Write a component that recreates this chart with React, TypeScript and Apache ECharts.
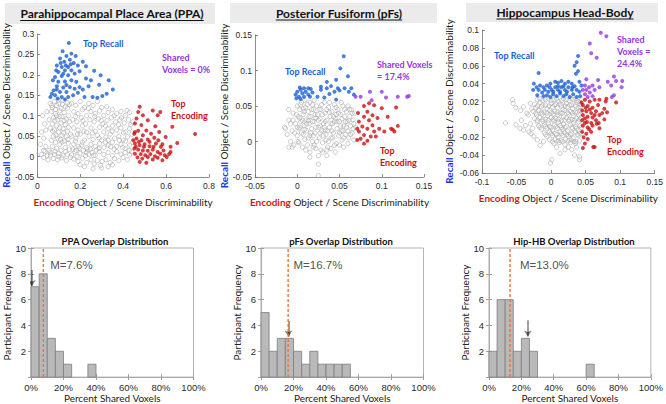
import React, { useEffect, useRef } from "react";
import * as echarts from "echarts";

// ---------- Scatter data: PPA ----------
const ppaGray: number[][] = [
  [.06,.13],[.08,.135],[.1,.13],[.12,.138],[.14,.132],[.07,.12],[.09,.125],[.11,.118],[.13,.122],[.15,.127],[.065,.11],[.085,.105],[.105,.112],[.125,.108],[.145,.1],[.075,.095],[.095,.09],[.115,.098],[.135,.092],[.055,.09],[.07,.08],[.09,.075],[.11,.082],[.13,.078],[.15,.085],[.08,.065],[.1,.06],[.12,.068],[.14,.062],[.06,.07],[.075,.05],[.095,.045],[.115,.052],[.135,.048],[.155,.055],[.065,.04],[.085,.035],[.105,.03],[.125,.038],[.145,.033],[.07,.025],[.09,.02],[.11,.015],[.13,.022],[.15,.018],[.06,.01],[.08,.005],[.1,.008],[.12,.002],[.14,.006],[.075,-.005],[.095,-.008],[.115,-.003],[.135,-.01],[.155,-.002],[.085,.115],[.125,.088],[.105,.07],[.145,.072],[.09,.1],[.115,.035],[.14,.118],
  [.02,.005],[.03,-.002],[.035,.012],[.045,.002],[.05,-.008],[.055,.015],[.16,.004],[.17,-.006],[.175,.012],[.185,.0],[.19,-.012],[.2,.008],[.21,-.004],[.215,.014],[.225,.002],[.23,-.015],[.24,.006],[.25,-.008],[.255,.01],[.265,-.018],[.27,.003],[.28,-.01],[.29,.012],[.295,-.022],[.165,.018],[.195,.02],[.235,.018],[.275,.016],
  [.16,.13],[.18,.125],[.2,.135],[.22,.12],[.24,.13],[.26,.125],[.28,.135],[.3,.12],[.17,.11],[.19,.105],[.21,.115],[.23,.1],[.25,.11],[.27,.105],[.29,.112],[.31,.1],[.33,.108],[.35,.115],[.37,.105],[.39,.11],[.41,.1],[.43,.108],[.165,.09],[.185,.085],[.205,.095],[.225,.08],[.245,.09],[.265,.085],[.285,.092],[.305,.08],[.325,.088],[.345,.095],[.365,.085],[.385,.09],[.405,.082],[.425,.09],[.445,.085],[.17,.07],[.19,.065],[.21,.075],[.23,.06],[.25,.07],[.27,.062],[.29,.072],[.31,.06],[.33,.068],[.35,.075],[.37,.065],[.39,.07],[.41,.06],[.43,.068],[.16,.05],[.18,.045],[.2,.055],[.22,.04],[.24,.05],[.26,.042],[.28,.052],[.3,.04],[.32,.048],[.34,.055],[.36,.045],[.38,.05],[.4,.04],[.42,.048],[.44,.055],[.17,.03],[.19,.025],[.21,.035],[.23,.022],[.25,.03],[.27,.025],[.29,.032],[.31,.022],[.33,.028],[.35,.035],[.37,.025],[.39,.03],[.41,.02],[.43,.028],[.445,.035],[.31,.005],[.32,-.008],[.33,.01],[.34,-.015],[.35,.002],[.36,-.005],[.37,.012],[.38,-.01],[.39,.006],[.4,-.002],[.41,.01],[.42,-.008],[.43,.004],[.44,.012],[.22,-.025],[.26,-.03],[.3,-.028],[.33,-.025],[.2,-.02],[.35,-.02],
  [.015,.03],[.02,.06],[.025,.1],[.03,.045],[.035,.08],[.04,.025],[.045,.11],[.03,.015],[.04,.065],
  [.067,.125],[.098,.137],[.117,.128],[.082,.088],[.103,.098],[.123,.058],[.088,.052],[.072,.062],[.108,.042],[.132,.012],[.098,.0],[.083,.013],[.062,.003],[.143,.042],[.178,.098],[.213,.088],[.238,.118],[.268,.098],[.298,.088],[.323,.122],[.358,.1],[.392,.095],[.418,.113],[.188,.055],[.218,.062],[.258,.058],[.288,.045],[.318,.075],[.348,.062],[.378,.078],[.402,.058],[.435,.078],[.182,.015],[.208,.028],[.248,.018],[.288,.02],[.318,.035],[.358,.018],[.398,.022],[.428,.015],[.178,.038],[.33,.04],[.228,.01],[.262,.003],[.302,-.012],[.342,.024],[.382,.04],[.412,.038]
];
const ppaRecall: number[][] = [
  [.147,.278],[.118,.258],[.159,.252],[.136,.246],[.179,.246],[.106,.24],[.152,.237],[.126,.232],[.17,.229],[.189,.223],[.091,.223],[.114,.219],[.144,.219],[.129,.211],[.159,.211],[.098,.207],[.227,.221],[.197,.209],[.083,.195],[.114,.197],[.144,.199],[.174,.203],[.073,.187],[.098,.183],[.129,.184],[.159,.187],[.182,.183],[.091,.172],[.121,.169],[.152,.17],[.076,.162],[.106,.158],[.136,.158],[.174,.166],[.083,.15],[.114,.146],[.061,.146],[.144,.146],[.167,.15],[.189,.156],[.068,.154],[.095,.142],[.129,.14],
  [.265,.21],[.25,.187],[.295,.199],[.333,.187],[.288,.176],[.352,.164],[.239,.172],[.212,.164],[.258,.146],[.303,.148],[.323,.154],[.28,.144],[.22,.146],[.197,.17],[.227,.191],[.212,.232],
  [.088,.211],[.109,.229],[.133,.223],[.156,.226],[.121,.203],[.091,.164],[.136,.175]
];
const ppaEncoding: number[][] = [
  [.477,.122],[.47,.109],[.492,.101],[.462,.093],[.515,.089],[.538,.113],[.561,.101],[.573,.109],[.55,.074],[.455,.081],[.485,.077],[.629,.073],[.508,.064],[.47,.063],[.452,.056],[.492,.052],[.53,.056],[.568,.06],[.735,.055],[.462,.044],[.485,.04],[.515,.042],[.545,.046],[.598,.048],[.652,.033],[.455,.032],[.477,.028],[.5,.03],[.523,.025],[.553,.032],[.576,.024],[.621,.024],[.452,.02],[.47,.017],[.492,.015],[.515,.014],[.538,.017],[.561,.011],[.588,.015],[.614,.006],[.455,.007],[.482,.006],[.503,.003],[.527,.006],[.548,.001],[.573,.007],[.594,.003],[.467,-.002],[.489,-.005],[.515,-.001],[.538,-.007],[.561,-.003],[.583,-.009],[.477,-.013],[.508,-.015],[.603,-.001],[.621,.011],[.459,.024],[.473,.036],[.497,.024],[.523,.036],[.542,.024],[.564,.04],[.583,.03],[.447,.04],[.455,.06]
];
const ppaShared: number[][] = [];

// ---------- Scatter data: pFs ----------
const pfsGray: number[][] = [
  [-.015,.02],[-.012,.01],[-.01,.03],[-.008,.0],[-.006,.015],[-.005,.04],[-.004,-.005],[-.002,.025],[0,.05],[0,.008],[.001,.035],[.002,.018],[.002,-.002],[.003,.045],[.004,.028],[.005,.012],[.005,.055],[.006,-.008],[.007,.038],[.008,.022],[.009,.003],[.01,.048],[.01,.03],[.011,.015],[.012,-.005],[.013,.042],[.014,.025],[.015,.008],[.015,.055],[.016,.035],[.017,.018],[.018,.0],[.019,.045],[.02,.028],[.021,.012],[.022,-.01],[.023,.05],[.024,.038],[.025,.02],[.026,.005],[.027,.032],[.028,.045],[.029,.015],[.03,-.002],[.031,.025],[.032,.055],[.033,.04],[.034,.01],[.035,.03],[.036,-.008],[.037,.048],[.038,.02],[.039,.035],[.04,.005],[.041,.042],[.042,.025],[.043,.012],[.044,.052],[.045,.032],[.046,-.003],[.047,.018],[.048,.045],[.049,.008],[.05,.028],[.051,.038],[.052,.015],[.053,.002],[.054,.05],[.055,.022],[.056,.035],[.057,.01],[.058,.042],[.059,.028],[.06,.015],[.061,.005],[.062,.035],[.063,.022],[.064,.045],[.065,.012],[.066,.03],[.067,.002],[.068,.04],[.069,.02],
  [-.01,.045],[-.008,.025],[-.003,.012],[-.001,.038],[.001,.0],[.003,.02],[.004,.052],[.006,.03],[.007,.01],[.008,.042],[.009,.058],[.011,.025],[.012,.052],[.013,.005],[.014,.035],[.016,.012],[.017,.045],[.018,.028],[.019,-.008],[.02,.058],[.021,.038],[.022,.02],[.023,.0],[.025,.03],[.026,.045],[.027,.012],[.028,-.012],[.03,.038],[.031,.008],[.032,.02],[.033,.028],[.035,.045],[.036,.015],[.037,.0],[.038,.055],[.04,.025],[.041,.015],[.043,.035],[.044,-.005],[.046,.048],[.047,.028],[.049,.04],[.05,.012],[.052,.055],[.053,.032],[.055,.005],[.056,.045],[.058,.02],[.06,.05],[.061,.03],[.063,.01],[.065,.04],[.067,.025],[-.005,.03],[.0,.02],[.01,-.012],[.015,-.015],[.02,-.005],[.025,-.02],[.03,-.015],[.035,-.012],[.04,-.01],[.045,-.015],[.05,-.005],[.055,-.008],[.06,-.003],[.025,-.032],[.025,-.048],[-.014,.018],[-.01,-.008],[-.006,-.008],[.015,-.022],[.035,-.02],
  [.003,.033],[.009,.017],[.013,.029],[.018,.052],[.022,.033],[.027,.022],[.033,.016],[.038,.041],[.042,.005],[.046,.038],[.051,.022],[.057,.028],[.062,.045],[.066,.018],[.007,.046],[.019,.008],[.029,.052],[.034,.002],[.044,.028],[.054,.015]
];
const pfsRecall: number[][] = [
  [.055,.12],[.051,.103],[.06,.092],[.046,.087],[.035,.084],[.04,.078],[.048,.075],[.028,.077],[.035,.075],[.056,.075],[.064,.075],[.028,.073],[.044,.07],[.05,.072],[.061,.07],[.067,.066],[.038,.067],[.024,.063],[.032,.062],[.046,.059],[.015,.063],[.018,.069],[.013,.075],[.008,.075],[.004,.073],[.01,.07],[.006,.068],[0,.07],[-.002,.066],[.002,.063],[.008,.063],[-.001,.061],[.004,.06],[.013,.066],[.016,.074],[.003,.076]
];
const pfsEncoding: number[][] = [
  [.085,.054],[.079,.05],[.091,.051],[.1,.047],[.117,.048],[.083,.042],[.089,.037],[.079,.035],[.073,.028],[.085,.03],[.095,.033],[.107,.035],[.077,.021],[.083,.018],[.089,.023],[.097,.018],[.103,.014],[.111,.018],[.115,.014],[.119,.022],[.073,.014],[.079,.009],[.087,.007],[.093,.007],[.075,.004],[.083,.001],[.079,-.003],[.071,.002],[.113,.017],[.091,.014],[.072,.04],[.071,.018]
];
const pfsShared: number[][] = [
  [.075,.063],[.086,.07],[.088,.058],[.1,.07],[.105,.062],[.119,.063],[.13,.063],[.132,.064],[.069,.063]
];

// ---------- Scatter data: Hippocampus head-body ----------
const hipGray: number[][] = [
  [-.02,.022],[-.012,.021],[-.004,.023],[.004,.022],[.011,.02],[.018,.023],[.026,.021],[.033,.022],[.04,.02],
  [-.024,.017],[-.016,.019],[-.008,.016],[0,.018],[.007,.017],[.015,.015],[.022,.018],[.03,.016],[.037,.019],[.043,.017],
  [-.022,.013],[-.014,.014],[-.006,.012],[.002,.014],[.009,.013],[.017,.011],[.024,.014],[.031,.012],[.039,.013],
  [-.026,.009],[-.018,.01],[-.01,.008],[-.002,.01],[.005,.009],[.013,.007],[.02,.01],[.028,.009],[.035,.008],[.042,.01],
  [-.021,.005],[-.013,.006],[-.005,.004],[.003,.006],[.01,.005],[.018,.003],[.025,.006],[.032,.004],[.04,.005],
  [-.024,.001],[-.016,.002],[-.008,0],[0,.002],[.007,.001],[.015,-.001],[.022,.002],[.03,.0],[.037,.001],[.043,.002],
  [-.02,-.003],[-.012,-.002],[-.004,-.004],[.004,-.002],[.011,-.003],[.018,-.005],[.026,-.002],[.033,-.004],[.04,-.003],
  [-.018,-.007],[-.01,-.006],[-.002,-.008],[.005,-.006],[.013,-.007],[.02,-.009],[.028,-.006],[.035,-.008],[.042,-.007],
  [-.014,-.011],[-.006,-.01],[.002,-.012],[.009,-.01],[.017,-.011],[.024,-.013],[.031,-.01],[.039,-.012],
  [-.01,-.015],[-.002,-.014],[.006,-.016],[.013,-.014],[.02,-.015],[.028,-.017],[.035,-.014],[.042,-.016],
  [-.006,-.019],[.002,-.018],[.01,-.02],[.017,-.018],[.025,-.019],[.032,-.021],[.04,-.018],
  [-.002,-.023],[.006,-.022],[.014,-.024],[.021,-.022],[.029,-.023],[.036,-.025],
  [.004,-.027],[.012,-.026],[.02,-.028],[.028,-.026],[.035,-.027],
  [-.016,.023],[-.008,.022],[0,.021],[.008,.023],[.015,.021],[.022,.022],[.03,.023],[.037,.021],[.044,.022],
  [-.02,.015],[-.012,.016],[-.003,.015],[.005,.016],[.013,.017],[.02,.015],[.027,.016],[.035,.015],[.042,.014],
  [-.022,.007],[-.014,.008],[-.006,.007],[.001,.008],[.009,.008],[.016,.007],[.024,.008],[.031,.007],[.038,.008],
  [-.02,-.001],[-.012,.0],[-.004,-.001],[.003,.0],[.011,.0],[.019,-.001],[.026,.0],[.034,-.001],[.041,.0],
  [-.016,-.009],[-.008,-.008],[0,-.009],[.007,-.008],[.015,-.009],[.022,-.008],[.03,-.009],[.037,-.01],[.044,-.009],
  [-.008,-.017],[0,-.016],[.008,-.017],[.015,-.016],[.023,-.017],[.03,-.016],[.038,-.017],
  [.002,-.025],[.01,-.024],[.017,-.025],[.025,-.024],[.033,-.025],[.041,-.024],
  [-.066,-.004],[-.056,.022],[-.055,.018],[-.051,.013],[-.044,.01],[-.04,.014],[-.051,-.006],[-.045,-.01],[-.04,-.012],[-.032,-.014],[-.029,-.016],[-.035,.007],[-.043,-.001],[-.037,-.007],[-.025,-.019],[-.02,-.023],[-.016,-.029],[-.011,-.025],[-.001,-.049],[.001,-.045],[.013,-.038],[.02,-.034],[.025,-.031],[.03,-.034],[.037,-.031],[.041,-.042],[.041,-.045],[.034,-.04],[.008,-.031],
  [-.03,.018],[-.033,.005],[-.03,-.005],[-.028,.012],[-.027,-.01]
];
const hipRecall: number[][] = [
  [.039,.071],[.037,.064],[.034,.06],[.039,.054],[.036,.051],[-.018,.052],[-.025,.04],[-.021,.036],[-.026,.033],[-.016,.038],[-.011,.036],[-.006,.038],[-.001,.04],[.006,.042],[.01,.041],[.015,.043],[.02,.04],[.025,.042],[.03,.04],[.041,.042],[.044,.038],[.034,.037],[-.018,.033],[-.013,.03],[-.009,.033],[-.004,.031],[.001,.033],[.006,.036],[.01,.033],[.015,.036],[.02,.033],[.025,.036],[.03,.033],[.037,.033],[.041,.031],[-.02,.027],[-.011,.026],[-.006,.027],[-.001,.025],[.003,.028],[.008,.026],[.013,.029],[.018,.026],[.022,.028],[.027,.025],[.032,.028],[.037,.025],[.042,.026],[.003,.031],[.013,.031],[.018,.037],[.023,.031],[.031,.036],[-.002,.036],[.01,.037]
];
const hipShared: number[][] = [
  [.072,.097],[.08,.093],[.056,.085],[.058,.074],[.066,.069],[.051,.045],[.049,.038],[.055,.036],[.06,.038],[.068,.044],[.07,.036],[.056,.03],[.063,.033],[.049,.028],[.046,.033],[.082,.042],[.091,.048],[.094,.043],[.087,.038],[.103,.043],[.102,.036],[.091,.027],[.088,.025],[.053,.025],[.06,.026],[.051,.033]
];
const hipEncoding: number[][] = [
  [.049,.022],[.056,.02],[.063,.022],[.07,.022],[.08,.023],[.046,.016],[.053,.015],[.06,.013],[.068,.016],[.077,.012],[.045,.01],[.051,.009],[.058,.007],[.065,.009],[.046,.005],[.053,.003],[.06,.002],[.07,.005],[.045,-.001],[.052,-.003],[.058,-.004],[.065,-.001],[.077,0],[.046,-.007],[.053,-.009],[.06,-.007],[.07,-.01],[.045,-.014],[.051,-.016],[.058,-.014],[.047,-.02],[.053,-.022],[.049,-.027],[.046,-.032],[.063,-.031],[.079,.02],[.05,.013],[.056,.011],[.063,.005],[.049,-.004],[.055,-.011],[.049,.001],[.044,.019],[.066,-.005],[.074,.007],[.094,.019],[.081,.008],[.069,-.004],[.061,-.031]
];

// ---------- Histogram data ----------
const binEdges = [0,5,10,15,20,25,30,35,40,45,50,55,60,65,70,75,80,85,90,95,100];
const ppaCounts = [7,8,3,2,1,0,0,1,0,0,0,0,0,0,0,0,0,0,0,0];
const pfsCounts = [5,2,3,3,2,1,2,1,1,1,1,0,0,0,0,0,0,0,0,0];
const hipCounts = [2,6,6,2,3,2,0,0,0,0,0,0,1,0,0,0,0,0,0,0];
const histMeans = [7.6, 16.7, 13.0];
const meanLabels = ["M=7.6%", "M=16.7%", "M=13.0%"];
const arrowX = [0.5, 16.9, 24];
const arrowTop = [8.3, 4.35, 4.4];
const arrowBottom = [7.05, 3.15, 3.15];
const meanLabelX = [11.8, 20, 19.1];
const meanLabelY = 8.7;
const histTitles = ["PPA Overlap Distribution", "pFs Overlap Distribution", "Hip-HB Overlap Distribution"];
const panelTitles = ["Parahippocampal Place Area (PPA)", "Posterior Fusiform (pFs)", "Hippocampus Head-Body"];

// axis ranges for scatter panels
const scatterX = [
  { min: 0, max: 0.8, interval: 0.2 },
  { min: -0.05, max: 0.15, interval: 0.05 },
  { min: -0.1, max: 0.15, interval: 0.05 },
];
const scatterY = [
  { min: -0.05, max: 0.3, interval: 0.05 },
  { min: -0.05, max: 0.15, interval: 0.05 },
  { min: -0.06, max: 0.1, interval: 0.02 },
];

const BLUE = "#1a5fd1";
const RED = "#cc1010";
const PURPLE = "#9438e0";
const CAL = "Lato, 'Open Sans', sans-serif";
const ARIAL = "'Liberation Sans', Arial, sans-serif";

function textWidth(s: string, font: string) {
  const c = document.createElement("canvas").getContext("2d");
  if (!c) return s.length * 6;
  c.font = font;
  return c.measureText(s).width;
}

export default function App() {
  const ref = useRef<HTMLDivElement>(null);
  useEffect(() => {
    document.body.style.margin = "0";
    if (!ref.current) return;
    const chart = echarts.init(ref.current, undefined, { renderer: "svg" });

    const grids: any[] = [
      { left: 33, top: 34, width: 176, height: 143 },
      { left: 255, top: 35, width: 169, height: 142 },
      { left: 482, top: 30, width: 175, height: 143 },
      { left: 31, top: 248, width: 162.5, height: 133, show: true, borderColor: "#a0a0a0", borderWidth: 0.8 },
      { left: 261, top: 248, width: 162.5, height: 133, show: true, borderColor: "#a0a0a0", borderWidth: 0.8 },
      { left: 489, top: 248, width: 162.5, height: 133, show: true, borderColor: "#a0a0a0", borderWidth: 0.8 },
    ];

    const axisLineC = "#707070";
    const xAxes: any[] = [];
    const yAxes: any[] = [];
    const yNameGaps = [22, 23, 28];
    for (let i = 0; i < 3; i++) {
      xAxes.push({
        gridIndex: i, type: "value", ...scatterX[i],
        axisLine: { show: true, onZero: false, lineStyle: { color: axisLineC, width: 0.8 } },
        axisTick: { show: true, inside: true, length: 3, lineStyle: { color: axisLineC, width: 0.8 } },
        axisLabel: { color: "#2a2a2a", fontSize: 8.5, fontFamily: ARIAL, margin: 4 },
        splitLine: { show: false },
        name: "{e|Encoding} Object / Scene Discriminability",
        nameLocation: "middle", nameGap: 20,
        nameTextStyle: { color: "#222", fontFamily: CAL, fontSize: 10,
          rich: { e: { color: "#d01818", fontWeight: "bold", fontFamily: CAL, fontSize: 10 } } },
      });
      yAxes.push({
        gridIndex: i, type: "value", ...scatterY[i],
        axisLine: { show: true, onZero: false, lineStyle: { color: axisLineC, width: 0.8 } },
        axisTick: { show: true, inside: true, length: 3, lineStyle: { color: axisLineC, width: 0.8 } },
        axisLabel: { color: "#2a2a2a", fontSize: 8.5, fontFamily: ARIAL, margin: 3 },
        splitLine: { show: false },
        name: "{r|Recall} Object / Scene Discriminability",
        nameLocation: "middle", nameGap: yNameGaps[i],
        nameTextStyle: { color: "#222", fontFamily: CAL, fontSize: 10,
          rich: { r: { color: "#1838e8", fontWeight: "bold", fontFamily: CAL, fontSize: 10 } } },
      });
    }
    const histLine = "#a0a0a0";
    for (let i = 0; i < 3; i++) {
      xAxes.push({
        gridIndex: 3 + i, type: "value", min: 0, max: 100, interval: 20,
        axisLine: { show: true, onZero: false, lineStyle: { color: histLine, width: 0.8 } },
        axisTick: { show: true, inside: true, length: 3, lineStyle: { color: histLine } },
        axisLabel: { color: "#2a2a2a", fontSize: 9.5, fontFamily: ARIAL, margin: 5, formatter: "{value}%" },
        splitLine: { show: false },
        name: "Percent Shared Voxels", nameLocation: "middle", nameGap: 14,
        nameTextStyle: { color: "#222", fontFamily: CAL, fontSize: 10 },
      });
      yAxes.push({
        gridIndex: 3 + i, type: "value", min: 0, max: 10, interval: 2,
        axisLine: { show: true, onZero: false, lineStyle: { color: histLine, width: 0.8 } },
        axisTick: { show: true, inside: true, length: 3, lineStyle: { color: histLine } },
        axisLabel: { color: "#2a2a2a", fontSize: 9.5, fontFamily: ARIAL, margin: 5,
          formatter: (v: number) => (v === 0 ? "" : String(v)) },
        splitLine: { show: false },
        name: "Participant Frequency", nameLocation: "middle", nameGap: 12,
        nameTextStyle: { color: "#222", fontFamily: CAL, fontSize: 10 },
      });
    }
    // mirrored ticks on histogram boxes
    for (let i = 0; i < 3; i++) {
      xAxes.push({
        gridIndex: 3 + i, type: "value", position: "top", min: 0, max: 100, interval: 20,
        axisLine: { show: false }, axisLabel: { show: false }, splitLine: { show: false },
        axisTick: { show: true, inside: true, length: 3, lineStyle: { color: histLine } },
      });
      yAxes.push({
        gridIndex: 3 + i, type: "value", position: "right", min: 0, max: 10, interval: 2,
        axisLine: { show: false }, axisLabel: { show: false }, splitLine: { show: false },
        axisTick: { show: true, inside: true, length: 3, lineStyle: { color: histLine } },
      });
    }

    const series: any[] = [];
    const panels = [
      { gray: ppaGray, recall: ppaRecall, enc: ppaEncoding, shared: ppaShared },
      { gray: pfsGray, recall: pfsRecall, enc: pfsEncoding, shared: pfsShared },
      { gray: hipGray, recall: hipRecall, enc: hipEncoding, shared: hipShared },
    ];
    panels.forEach((p, i) => {
      series.push({
        type: "scatter", xAxisIndex: i, yAxisIndex: i, data: p.gray, symbolSize: 4.3,
        itemStyle: { color: "rgba(255,255,255,0)", borderColor: "#a2a2a2", borderWidth: 0.7 },
      });
      series.push({ type: "scatter", xAxisIndex: i, yAxisIndex: i, data: p.recall, symbolSize: 4, itemStyle: { color: BLUE } });
      series.push({ type: "scatter", xAxisIndex: i, yAxisIndex: i, data: p.enc, symbolSize: 4, itemStyle: { color: RED } });
      series.push({ type: "scatter", xAxisIndex: i, yAxisIndex: i, data: p.shared, symbolSize: 4, itemStyle: { color: PURPLE } });
    });

    const counts = [ppaCounts, pfsCounts, hipCounts];
    counts.forEach((cs, i) => {
      const ax = 3 + i;
      const bins: number[][] = [];
      cs.forEach((c, k) => { if (c > 0) bins.push([binEdges[k], binEdges[k + 1], c]); });
      series.push({
        type: "custom", xAxisIndex: ax, yAxisIndex: ax, data: bins,
        renderItem: (params: any, api: any) => {
          const p0 = api.coord([api.value(0), api.value(2)]);
          const p1 = api.coord([api.value(1), 0]);
          return {
            type: "rect",
            shape: { x: p0[0], y: p0[1], width: p1[0] - p0[0], height: p1[1] - p0[1] },
            style: { fill: "#b9b9b9", stroke: "#7c7c7c", lineWidth: 0.8 },
          };
        },
      });
      series.push({
        type: "line", xAxisIndex: ax, yAxisIndex: ax, symbol: "none",
        data: [[histMeans[i], 0], [histMeans[i], 10]],
        lineStyle: { color: "#e8743c", width: 1.4, type: [3, 2] },
      });
      series.push({
        type: "lines", coordinateSystem: "cartesian2d", xAxisIndex: ax, yAxisIndex: ax,
        symbol: ["none", "arrow"], symbolSize: 6,
        lineStyle: { color: "#000", width: 1.5 },
        data: [{ coords: [[arrowX[i], arrowTop[i]], [arrowX[i], arrowBottom[i]]] }],
      });
      series.push({
        type: "scatter", xAxisIndex: ax, yAxisIndex: ax, symbolSize: 0,
        data: [[meanLabelX[i], meanLabelY]],
        label: { show: true, position: "right", distance: 0, formatter: meanLabels[i],
          color: "#222", fontSize: 11.5, fontFamily: ARIAL },
      });
    });

    // graphic elements: title boxes, underlines, annotations, histogram titles
    const graphic: any[] = [];
    const titleBoxes = [
      { x: 5, y: 3, w: 210, h: 21, cx: 112, cy: 13.5 },
      { x: 230, y: 3, w: 207, h: 20, cx: 339, cy: 13 },
      { x: 466, y: 3, w: 192, h: 19, cx: 565, cy: 12 },
    ];
    const titleFont = `bold 12px Lato`;
    titleBoxes.forEach((b, i) => {
      graphic.push({ type: "rect", shape: { x: b.x, y: b.y, width: b.w, height: b.h }, style: { fill: "#ebebeb" }, z: 0 });
      graphic.push({ type: "text", x: b.cx, y: b.cy, style: { text: panelTitles[i], fill: "#111", fontSize: 12, fontWeight: "bold", fontFamily: CAL, align: "center", verticalAlign: "middle" }, z: 2 });
      const w = textWidth(panelTitles[i], titleFont);
      graphic.push({ type: "line", shape: { x1: b.cx - w / 2, y1: b.cy + 7, x2: b.cx + w / 2, y2: b.cy + 7 }, style: { stroke: "#111", lineWidth: 1 }, z: 2 });
    });
    const ann = (text: string, x: number, y: number, color: string) =>
      graphic.push({ type: "text", x, y, style: { text, fill: color, fontSize: 9, fontWeight: "bold", fontFamily: CAL, align: "left", verticalAlign: "top", lineHeight: 12 }, z: 3 });
    ann("Top Recall", 83, 37, BLUE);
    ann("Shared\nVoxels = 0%", 162, 51, PURPLE);
    ann("Top\nEncoding", 171, 97, RED);
    ann("Top Recall", 285, 65, BLUE);
    ann("Shared Voxels\n= 17.4%", 377, 58, PURPLE);
    ann("Top\nEncoding", 380, 144, RED);
    ann("Top Recall", 494, 49, BLUE);
    ann("Shared\nVoxels =\n24.4%", 617, 33, PURPLE);
    ann("Top\nEncoding", 607, 133, RED);
    const histCx = [115, 341, 574];
    histTitles.forEach((t, i) => {
      graphic.push({ type: "text", x: histCx[i], y: 241, style: { text: t, fill: "#111", fontSize: 9.5, fontWeight: "bold", fontFamily: CAL, align: "center", verticalAlign: "middle" }, z: 3 });
    });

    chart.setOption({
      animation: false,
      backgroundColor: "#fff",
      grid: grids,
      xAxis: xAxes,
      yAxis: yAxes,
      series,
      graphic,
    });
    return () => chart.dispose();
  }, []);
  return <div ref={ref} style={{ width: 666, height: 404 }} />;
}
